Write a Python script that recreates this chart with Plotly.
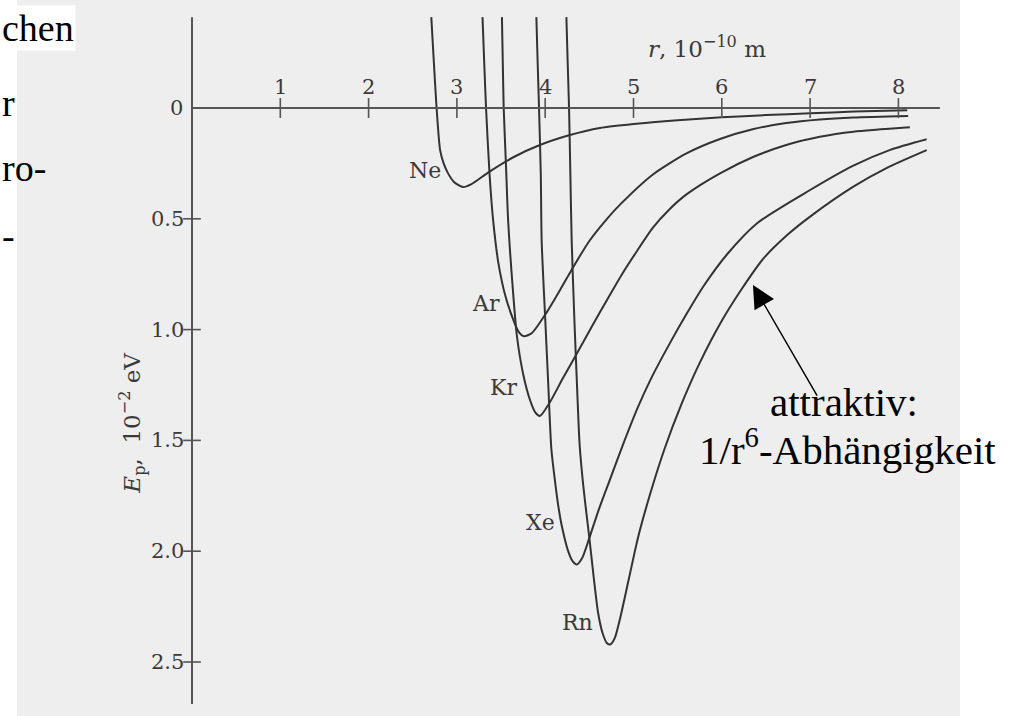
import plotly.graph_objects as go

# Potential energy of noble-gas atom pairs: depth E_p (10^-2 eV, drawn downward)
# against separation r (10^-10 m).
ne_r = [2.71, 2.74, 2.77, 2.81, 2.85, 2.90, 2.97, 3.07, 3.16, 3.37, 3.65, 3.94, 4.28, 4.62, 5.00, 5.50, 6.00, 6.50, 7.00, 7.50, 8.10]
ne_e = [-0.41, -0.20, 0.00, 0.19, 0.25, 0.295, 0.335, 0.357, 0.345, 0.287, 0.22, 0.167, 0.122, 0.090, 0.072, 0.055, 0.042, 0.032, 0.024, 0.016, 0.010]

ar_r = [3.29, 3.31, 3.33, 3.37, 3.41, 3.47, 3.55, 3.64, 3.70, 3.76, 3.85, 4.02, 4.17, 4.32, 4.50, 4.70, 4.85, 5.22, 5.60, 5.98, 6.36, 6.73, 7.11, 7.49, 8.11]
ar_e = [-0.41, -0.20, 0.00, 0.30, 0.505, 0.70, 0.85, 0.957, 1.01, 1.03, 1.015, 0.92, 0.82, 0.716, 0.60, 0.50, 0.435, 0.30, 0.205, 0.14, 0.095, 0.068, 0.052, 0.043, 0.036]

kr_r = [3.51, 3.52, 3.53, 3.555, 3.58, 3.63, 3.68, 3.75, 3.83, 3.89, 3.94, 4.05, 4.20, 4.36, 4.53, 4.70, 4.87, 5.04, 5.22, 5.40, 5.60, 5.98, 6.36, 6.73, 7.11, 7.49, 8.13]
kr_e = [-0.41, -0.20, 0.00, 0.25, 0.505, 0.80, 1.03, 1.20, 1.32, 1.375, 1.39, 1.33, 1.22, 1.107, 0.985, 0.866, 0.75, 0.645, 0.54, 0.46, 0.39, 0.295, 0.22, 0.167, 0.13, 0.107, 0.087]

xe_r = [3.90, 3.915, 3.93, 3.95, 3.96, 4.00, 4.035, 4.07, 4.11, 4.15, 4.19, 4.26, 4.31, 4.36, 4.42, 4.50, 4.60, 4.73, 4.88, 5.05, 5.20, 5.40, 5.60, 5.80, 6.06, 6.40, 7.00, 7.49, 7.90, 8.32]
xe_e = [-0.41, -0.20, 0.00, 0.30, 0.60, 0.95, 1.25, 1.54, 1.68, 1.80, 1.89, 2.00, 2.045, 2.06, 2.03, 1.94, 1.82, 1.68, 1.52, 1.35, 1.22, 1.07, 0.93, 0.80, 0.66, 0.52, 0.37, 0.26, 0.19, 0.141]

rn_r = [4.24, 4.255, 4.27, 4.285, 4.30, 4.33, 4.36, 4.39, 4.43, 4.47, 4.50, 4.55, 4.60, 4.65, 4.70, 4.74, 4.79, 4.85, 4.95, 5.05, 5.19, 5.35, 5.55, 5.75, 6.00, 6.22, 6.47, 6.75, 7.00, 7.49, 7.87, 8.32]
rn_e = [-0.41, -0.20, 0.00, 0.30, 0.60, 0.95, 1.25, 1.52, 1.70, 1.84, 1.94, 2.12, 2.28, 2.37, 2.415, 2.42, 2.39, 2.30, 2.12, 1.94, 1.74, 1.54, 1.33, 1.15, 0.96, 0.82, 0.68, 0.57, 0.49, 0.355, 0.27, 0.19]

gases = ["Ne", "Ar", "Kr", "Xe", "Rn"]
curves = {"Ne": (ne_r, ne_e), "Ar": (ar_r, ar_e), "Kr": (kr_r, kr_e),
          "Xe": (xe_r, xe_e), "Rn": (rn_r, rn_e)}

x_ticks = [1, 2, 3, 4, 5, 6, 7, 8]
y_ticks = [0.5, 1.0, 1.5, 2.0, 2.5]
y_tick_labels = ["0.5", "1.0", "1.5", "2.0", "2.5"]

# canvas geometry: pixel origin of the axes and pixels per unit
W, H = 1021, 716
X0_PX, PX_PER_R = 192.0, 88.3
Y0_PX, PX_PER_E = 108.0, 221.6
x_range = [-X0_PX / PX_PER_R, (W - X0_PX) / PX_PER_R]
y_range = [(H - Y0_PX) / PX_PER_E, -Y0_PX / PX_PER_E]

INK = "#333333"
AXIS_INK = "#555555"
XLAB_FONT = dict(family="DejaVu Serif", size=21, color="#3a3a3a")
YLAB_FONT = dict(family="DejaVu Serif", size=21, color="#3a3a3a")
GAS_FONT = dict(family="DejaVu Serif", size=22, color="#3a3a3a")

label_anchor = {"Ne": (2.64, 0.28), "Ar": (3.33, 0.88), "Kr": (3.53, 1.26),
                "Xe": (3.95, 1.87), "Rn": (4.37, 2.32)}

fig = go.Figure()

for g in gases:
    r, e = curves[g]
    fig.add_trace(go.Scatter(x=r, y=e, mode="lines", name=g,
                             line=dict(color=INK, width=2, shape="spline", smoothing=0.7),
                             hoverinfo="skip", showlegend=False))

shapes = []
# page tone behind the figure
shapes.append(dict(type="rect", xref="paper", yref="paper", x0=17 / W, x1=960 / W, y0=0, y1=1,
                   fillcolor="#eeeeee", line=dict(width=0), layer="below"))
# axes
shapes.append(dict(type="line", xref="x", yref="y", x0=0, x1=8.47, y0=0, y1=0,
                   line=dict(color=AXIS_INK, width=2)))
shapes.append(dict(type="line", xref="x", yref="y", x0=0, x1=0, y0=-0.41, y1=2.69,
                   line=dict(color=AXIS_INK, width=2)))
for t in x_ticks:
    shapes.append(dict(type="line", xref="x", yref="y", x0=t, x1=t, y0=-0.045, y1=0.045,
                       line=dict(color=AXIS_INK, width=1.6)))
for t in y_ticks:
    shapes.append(dict(type="line", xref="x", yref="y", x0=-0.1, x1=0.1, y0=t, y1=t,
                       line=dict(color=AXIS_INK, width=1.6)))

ann = []
for t in x_ticks:
    ann.append(dict(x=t, y=-0.095, xref="x", yref="y", text=str(t), showarrow=False,
                    font=XLAB_FONT, xanchor="center", yanchor="middle"))
ann.append(dict(x=-0.08, y=0, xref="x", yref="y", text="0", showarrow=False,
                font=XLAB_FONT, xanchor="right", yanchor="middle"))
for t, s in zip(y_ticks, y_tick_labels):
    ann.append(dict(x=-0.07, y=t, xref="x", yref="y", text=s, showarrow=False,
                    font=YLAB_FONT, xanchor="right", yanchor="middle"))
for g in gases:
    lx, ly = label_anchor[g]
    ann.append(dict(x=lx, y=ly, xref="x", yref="y", text=g, showarrow=False,
                    font=GAS_FONT, xanchor="center", yanchor="middle"))

ann.append(dict(x=5.83, y=-0.275, xref="x", yref="y", text="<i>r</i>, 10<sup>−10</sup> m",
                showarrow=False, font=dict(family="DejaVu Serif", size=23, color="#3a3a3a"),
                xanchor="center", yanchor="middle"))
ann.append(dict(x=-0.68, y=1.42, xref="x", yref="y",
                text="<i>E</i><sub>p</sub>,  10<sup>−2</sup> eV",
                showarrow=False, font=dict(family="DejaVu Serif", size=23, color="#3a3a3a"),
                textangle=-90, xanchor="center", yanchor="middle"))

# callout for the attractive tail
TXT = dict(family="Liberation Serif", size=41, color="#000000")
ann.append(dict(x=6.353, y=0.799, xref="x", yref="y", text="", showarrow=True,
                ax=65, ay=112, arrowhead=2, arrowsize=3, arrowwidth=1.5, arrowcolor="#000000",
                standoff=0, startstandoff=0))
ann.append(dict(x=844 / W, y=1 - 402 / H, xref="paper", yref="paper", text="attraktiv:",
                showarrow=False, font=TXT, xanchor="center", yanchor="middle"))
ann.append(dict(x=847 / W, y=1 - 447 / H, xref="paper", yref="paper",
                text="1/r<sup>6</sup>-Abhängigkeit", showarrow=False, font=TXT,
                xanchor="center", yanchor="middle"))

# running slide text at the left edge
SIDE = dict(family="Liberation Serif", size=38, color="#000000")
ann.append(dict(x=0, y=1 - 28 / H, xref="paper", yref="paper", text="chen", showarrow=False,
                font=SIDE, xanchor="left", yanchor="middle", bgcolor="#ffffff"))
ann.append(dict(x=0, y=1 - 103 / H, xref="paper", yref="paper", text="r", showarrow=False,
                font=SIDE, xanchor="left", yanchor="middle"))
ann.append(dict(x=0, y=1 - 168 / H, xref="paper", yref="paper", text="ro-", showarrow=False,
                font=SIDE, xanchor="left", yanchor="middle"))
ann.append(dict(x=0, y=1 - 236 / H, xref="paper", yref="paper", text="-", showarrow=False,
                font=SIDE, xanchor="left", yanchor="middle"))

fig.update_layout(
    width=W, height=H, margin=dict(l=0, r=0, t=0, b=0),
    paper_bgcolor="#ffffff", plot_bgcolor="rgba(0,0,0,0)",
    xaxis=dict(range=x_range, visible=False, fixedrange=True),
    yaxis=dict(range=y_range, visible=False, fixedrange=True),
    shapes=shapes, annotations=ann, showlegend=False,
)

fig.write_html("out.html")
